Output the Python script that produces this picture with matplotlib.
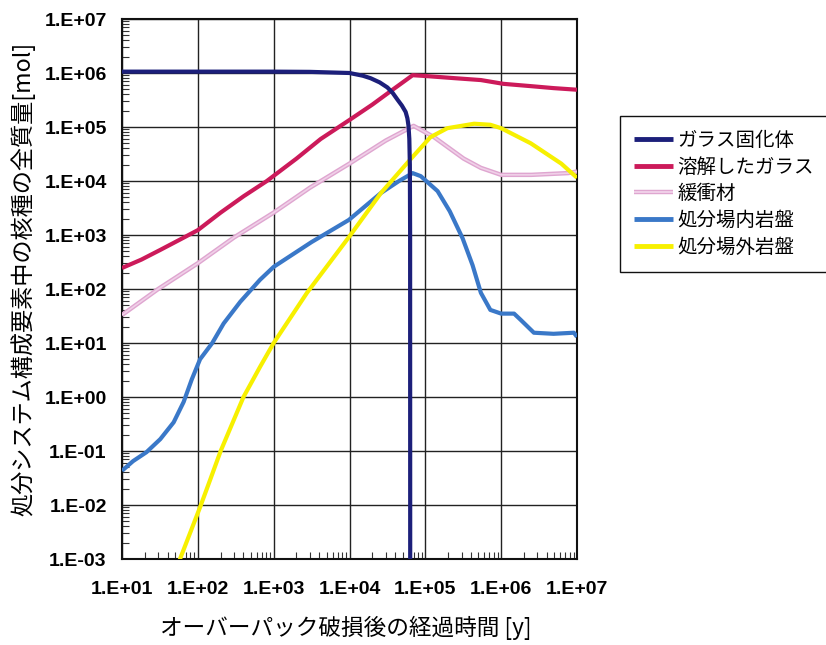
import numpy as np
import matplotlib
matplotlib.use("Agg")
import matplotlib.pyplot as plt
from matplotlib.ticker import LogLocator, FuncFormatter, NullFormatter
import matplotlib.patheffects as pe

plt.rcParams['font.family'] = ['Noto Sans CJK JP', 'DejaVu Sans']

# ---- data ----
glass_t = [10, 100, 1000, 3000, 10000, 15000, 19000, 25000, 31600, 37000, 43000,
           49000, 55000, 58000, 60000, 61500, 62500, 63000, 63200]
glass_v = [1.06e6, 1.06e6, 1.06e6, 1.05e6, 1.0e6, 8.9e5, 8.0e5, 6.7e5, 5.4e5, 4.3e5,
           3.2e5, 2.5e5, 1.9e5, 1.45e5, 1.05e5, 6e4, 2e4, 1e3, 1e-4]

dglass_t = [10, 18, 31.6, 56, 100, 200, 400, 813, 2000, 4170, 10000, 20000, 37000,
            68000, 1e5, 2.5e5, 5.4e5, 1.07e6, 2.5e6, 4.9e6, 1e7]
dglass_v = [245, 350, 525, 800, 1230, 2600, 5200, 1.0e4, 2.6e4, 6.0e4, 1.35e5,
            2.6e5, 4.9e5, 9.1e5, 8.8e5, 8.0e5, 7.4e5, 6.3e5, 5.7e5, 5.25e5, 4.9e5]

buffer_t = [10, 30, 100, 300, 1000, 3000, 10000, 30000, 70000, 1.3e5, 1.95e5,
            3.2e5, 5.4e5, 1e6, 2.5e6, 7.6e6, 1e7]
buffer_v = [33, 100, 300, 900, 2.6e3, 7.5e3, 2.1e4, 5.6e4, 1.05e5, 6.5e4, 4.3e4,
            2.6e4, 1.75e4, 1.3e4, 1.3e4, 1.4e4, 1.5e4]

near_t = [10, 14, 21, 32, 48, 65, 83, 107, 155, 219, 363, 660, 1000, 3160, 9800,
          2.6e4, 4.5e4, 6.8e4, 8.7e4, 1.45e5, 2.1e5, 3.1e5, 4.2e5, 5.4e5, 7.2e5,
          1e6, 1.48e6, 1.8e6, 2.7e6, 4.9e6, 9.1e6, 1e7]
near_v = [0.043, 0.065, 0.095, 0.166, 0.34, 0.81, 2.1, 5.0, 10, 23, 58, 148, 257,
          740, 1900, 6000, 1.0e4, 1.4e4, 1.23e4, 6500, 2750, 870, 275, 85, 41,
          35, 35, 27, 15.5, 14.8, 15.5, 13]

far_t = [50, 59, 107, 145, 200, 400, 660, 1000, 2750, 9800, 2.6e4, 6.8e4, 1.17e5,
         1.95e5, 4.4e5, 7.2e5, 1e6, 2.45e6, 6.2e6, 1e7]
far_v = [5.6e-4, 1.05e-3, 9.1e-3, 0.029, 0.1, 1.0, 3.6, 10, 85, 910, 6000, 2.8e4,
         6.5e4, 9.5e4, 1.15e5, 1.1e5, 9.5e4, 5e4, 2.1e4, 1.15e4]

labels = ["ガラス固化体", "溶解したガラス", "緩衝材", "処分場内岩盤", "処分場外岩盤"]
colors = ["#1c1f7a", "#cc1a5a", "#f0d0e8", "#3a78c8", "#f7f000"]

W, H = 826, 645
fig = plt.figure(figsize=(W / 100, H / 100), dpi=100)
L, R, T, B = 122, 577, 19, 559
ax = fig.add_axes([L / W, 1 - B / H, (R - L) / W, (B - T) / H])

lw = 3.0
kw = dict(solid_joinstyle='round', solid_capstyle='butt')
ax.plot(glass_t, glass_v, color=colors[0], lw=lw, label=labels[0], zorder=5, **kw)
ax.plot(dglass_t, dglass_v, color=colors[1], lw=lw, label=labels[1], zorder=4, **kw)
ax.plot(buffer_t, buffer_v, color=colors[2], lw=1.2, label=labels[2], zorder=3,
        path_effects=[pe.Stroke(linewidth=3.2, foreground="#dfa6d0"), pe.Normal()], **kw)
ax.plot(near_t, near_v, color=colors[3], lw=lw, label=labels[3], zorder=3, **kw)
ax.plot(far_t, far_v, color=colors[4], lw=lw, label=labels[4], zorder=3, **kw)

ax.set_xscale('log')
ax.set_yscale('log')
ax.set_xlim(10, 1e7)
ax.set_ylim(1e-3, 1e7)

ax.xaxis.set_major_locator(LogLocator(base=10, numticks=20))
ax.yaxis.set_major_locator(LogLocator(base=10, numticks=20))
ax.xaxis.set_minor_locator(LogLocator(base=10, subs=range(2, 10), numticks=20))
ax.yaxis.set_minor_locator(LogLocator(base=10, subs=range(2, 10), numticks=20))
fmt = FuncFormatter(lambda v, p: "1.E{:+03d}".format(int(round(np.log10(v)))))
ax.xaxis.set_major_formatter(fmt)
ax.yaxis.set_major_formatter(fmt)
ax.xaxis.set_minor_formatter(NullFormatter())
ax.yaxis.set_minor_formatter(NullFormatter())

ax.grid(which='major', color='#222222', lw=1.0)
ax.tick_params(axis='y', which='major', length=0, pad=11)
ax.tick_params(axis='x', which='major', length=0, pad=16)
ax.tick_params(which='minor', direction='in', length=5, width=0.8, color='#333333',
               top=False, right=False)
for lab in ax.get_xticklabels() + ax.get_yticklabels():
    lab.set_family(['Liberation Sans', 'DejaVu Sans'])
    lab.set_fontsize(14)
    lab.set_fontweight('bold')
for s in ax.spines.values():
    s.set_color('#111111')
    s.set_linewidth(1.5)

fig.text(23 / W, 1 - 279 / H, "処分システム構成要素中の核種の全質量[mol]",
         rotation=90, ha='center', va='center', fontsize=16.7)
fig.text(346 / W, 1 - 628 / H, "オーバーパック破損後の経過時間 [y]",
         ha='center', va='center', fontsize=16.3)

leg = ax.legend(loc='upper left', bbox_to_anchor=(620 / W, 1 - 116 / H),
                bbox_transform=fig.transFigure, borderaxespad=0, fancybox=False,
                edgecolor='#111111', framealpha=1, fontsize=14, handlelength=2.0,
                handletextpad=0.25, borderpad=0.7, labelspacing=0.3)
leg.get_frame().set_linewidth(1.0)
for line in leg.get_lines():
    line.set_linewidth(3.5 if line.get_label() != labels[2] else 1.4)

fig.savefig("out.png", dpi=100)
